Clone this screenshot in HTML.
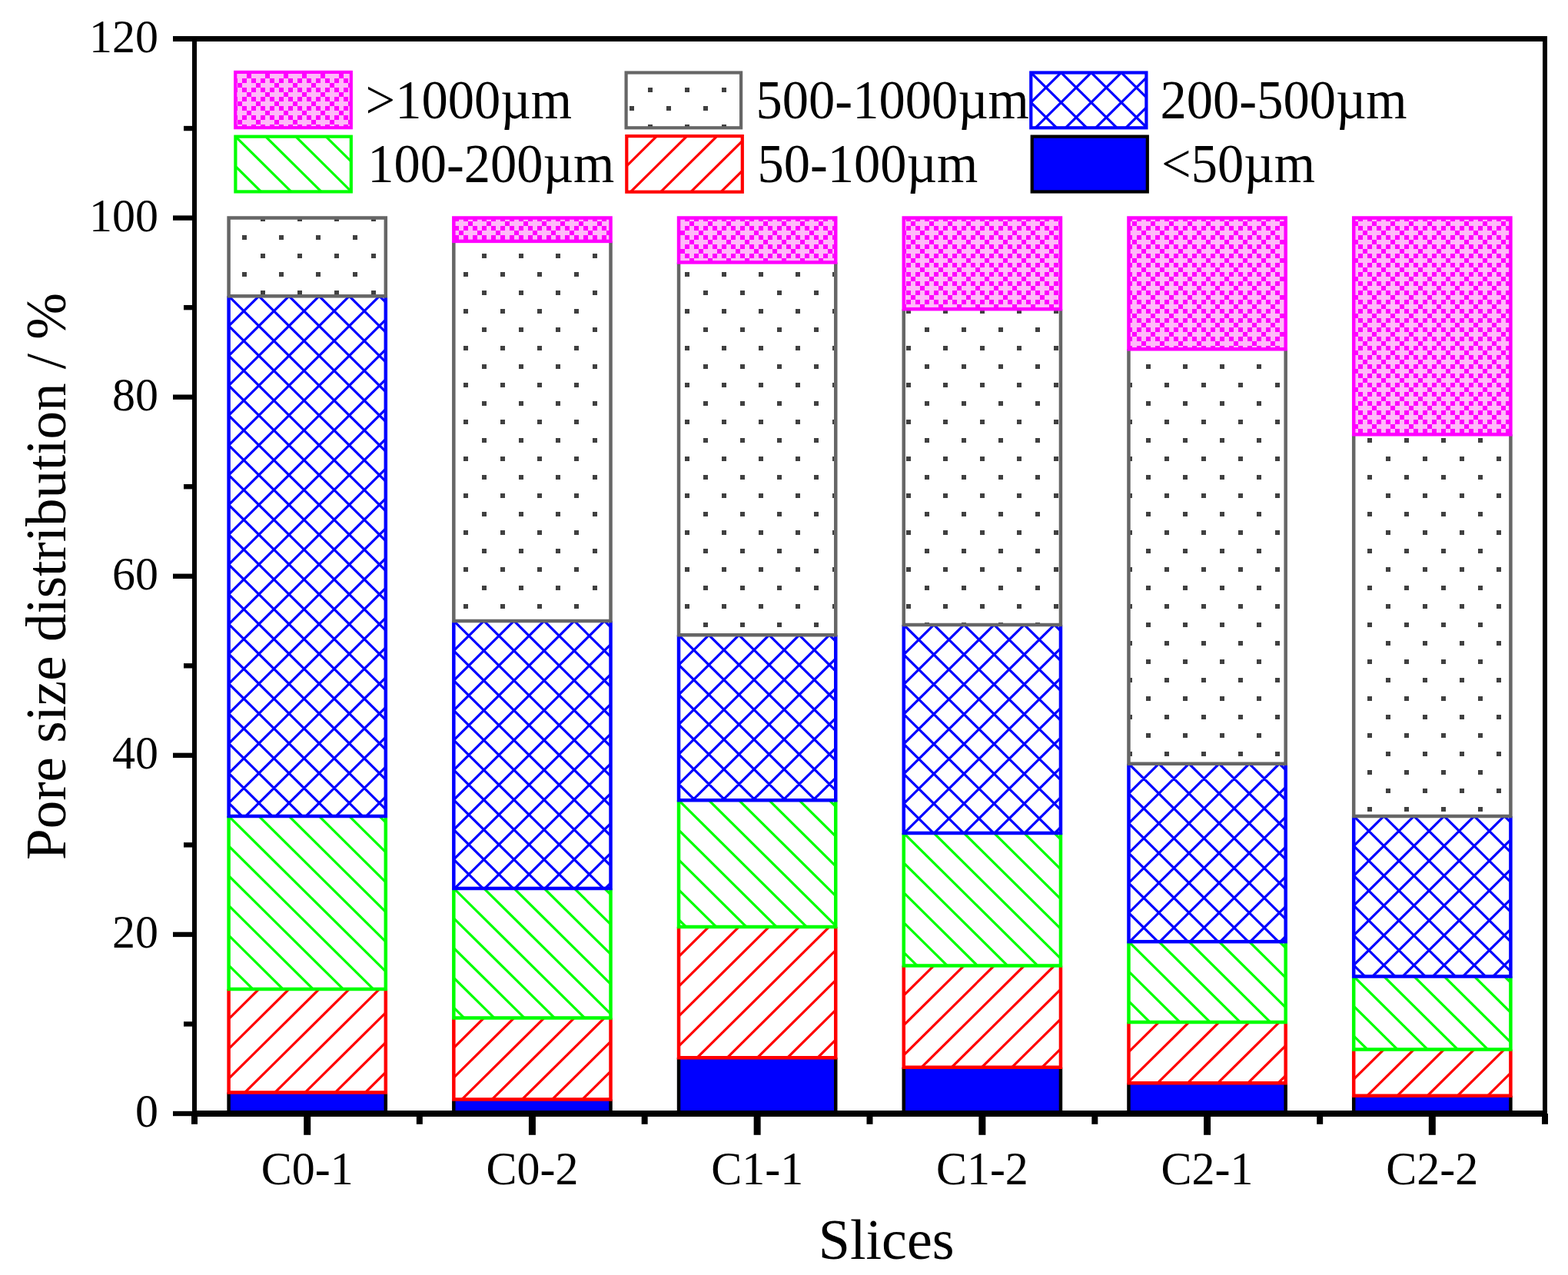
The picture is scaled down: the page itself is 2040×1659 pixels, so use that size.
<!DOCTYPE html>
<html><head><meta charset="utf-8"><title>Pore size distribution</title>
<style>
html,body{margin:0;padding:0;background:#fff;}
svg{display:block;}
text{font-family:"Liberation Serif","Times New Roman",serif;fill:#000;}
</style></head>
<body>
<svg width="2040" height="1659" viewBox="0 0 2040 1659">
<defs>
<pattern id="dots" patternUnits="userSpaceOnUse" x="0" y="0" width="48" height="48">
<rect x="27" y="18" width="6" height="6" fill="#404040"/><rect x="3" y="42" width="6" height="6" fill="#404040"/>
</pattern>
<pattern id="mag" patternUnits="userSpaceOnUse" x="9" y="0" width="24" height="24">
<rect width="24" height="24" fill="#ffb9f9"/>
<path d="M0 0h6v6h-6zM6 6h6v6h-6zM18 6h6v6h-6zM12 12h6v6h-6zM6 18h6v6h-6zM18 18h6v6h-6z" fill="#ff00ff"/>
</pattern>
<clipPath id="c1"><rect x="297.60" y="1287.00" width="204.20" height="134.50"/></clipPath><clipPath id="c2"><rect x="297.60" y="1062.00" width="204.20" height="225.00"/></clipPath><clipPath id="c3"><rect x="297.60" y="385.30" width="204.20" height="676.70"/></clipPath><clipPath id="c4"><rect x="590.32" y="1324.60" width="204.20" height="105.80"/></clipPath><clipPath id="c5"><rect x="590.32" y="1155.90" width="204.20" height="168.70"/></clipPath><clipPath id="c6"><rect x="590.32" y="807.90" width="204.20" height="348.00"/></clipPath><clipPath id="c7"><rect x="883.04" y="1205.90" width="204.20" height="170.40"/></clipPath><clipPath id="c8"><rect x="883.04" y="1041.30" width="204.20" height="164.60"/></clipPath><clipPath id="c9"><rect x="883.04" y="826.30" width="204.20" height="215.00"/></clipPath><clipPath id="c10"><rect x="1175.76" y="1256.50" width="204.20" height="132.30"/></clipPath><clipPath id="c11"><rect x="1175.76" y="1084.00" width="204.20" height="172.50"/></clipPath><clipPath id="c12"><rect x="1175.76" y="812.90" width="204.20" height="271.10"/></clipPath><clipPath id="c13"><rect x="1468.48" y="1330.00" width="204.20" height="79.20"/></clipPath><clipPath id="c14"><rect x="1468.48" y="1225.20" width="204.20" height="104.80"/></clipPath><clipPath id="c15"><rect x="1468.48" y="993.70" width="204.20" height="231.50"/></clipPath><clipPath id="c16"><rect x="1761.20" y="1365.50" width="204.20" height="60.30"/></clipPath><clipPath id="c17"><rect x="1761.20" y="1270.40" width="204.20" height="95.10"/></clipPath><clipPath id="c18"><rect x="1761.20" y="1061.90" width="204.20" height="208.50"/></clipPath><clipPath id="c19"><rect x="1341.30" y="94.50" width="150.10" height="71.80"/></clipPath><clipPath id="c20"><rect x="306.40" y="177.70" width="150.40" height="71.70"/></clipPath><clipPath id="c21"><rect x="815.30" y="177.10" width="150.50" height="72.60"/></clipPath></defs>
<rect width="2040" height="1659" fill="#fff"/>
<rect x="297.60" y="1421.50" width="204.20" height="27.50" fill="#0000ff"/><path d="M297.60 1421.50V1449.00H501.80V1421.50" fill="none" stroke="#000000" stroke-width="4.50" stroke-linejoin="miter"/>
<rect x="297.60" y="1287.00" width="204.20" height="134.50" fill="#fff"/><path clip-path="url(#c1)" d="M301.64 1283.00L157.67 1425.50M340.84 1283.00L196.87 1425.50M380.04 1283.00L236.07 1425.50M419.24 1283.00L275.27 1425.50M458.44 1283.00L314.47 1425.50M497.64 1283.00L353.67 1425.50M536.84 1283.00L392.87 1425.50M576.04 1283.00L432.07 1425.50M615.24 1283.00L471.27 1425.50" stroke="#ff0000" stroke-width="3.20" fill="none"/><path d="M297.60 1287.00V1421.50H501.80V1287.00" fill="none" stroke="#ff0000" stroke-width="4.50" stroke-linejoin="miter"/>
<rect x="297.60" y="1062.00" width="204.20" height="225.00" fill="#fff"/><path clip-path="url(#c2)" d="M97.56 1058.00L332.96 1291.00M136.76 1058.00L372.16 1291.00M175.96 1058.00L411.36 1291.00M215.16 1058.00L450.56 1291.00M254.36 1058.00L489.76 1291.00M293.56 1058.00L528.96 1291.00M332.76 1058.00L568.16 1291.00M371.96 1058.00L607.36 1291.00M411.16 1058.00L646.56 1291.00M450.36 1058.00L685.76 1291.00M489.56 1058.00L724.96 1291.00" stroke="#00ff00" stroke-width="3.20" fill="none"/><path d="M297.60 1062.00V1287.00H501.80V1062.00" fill="none" stroke="#00ff00" stroke-width="4.50" stroke-linejoin="miter"/>
<rect x="297.60" y="385.30" width="204.20" height="676.70" fill="#fff"/><path clip-path="url(#c3)" d="M-372.84 381.30L318.92 1066.00M-333.64 381.30L358.12 1066.00M-294.44 381.30L397.32 1066.00M-255.24 381.30L436.52 1066.00M-216.04 381.30L475.72 1066.00M-176.84 381.30L514.92 1066.00M-137.64 381.30L554.12 1066.00M-98.44 381.30L593.32 1066.00M-59.24 381.30L632.52 1066.00M-20.04 381.30L671.72 1066.00M19.16 381.30L710.92 1066.00M58.36 381.30L750.12 1066.00M97.56 381.30L789.32 1066.00M136.76 381.30L828.52 1066.00M175.96 381.30L867.72 1066.00M215.16 381.30L906.92 1066.00M254.36 381.30L946.12 1066.00M293.56 381.30L985.32 1066.00M332.76 381.30L1024.52 1066.00M371.96 381.30L1063.72 1066.00M411.16 381.30L1102.92 1066.00M450.36 381.30L1142.12 1066.00M489.56 381.30L1181.32 1066.00M301.64 381.30L-390.12 1066.00M340.84 381.30L-350.92 1066.00M380.04 381.30L-311.72 1066.00M419.24 381.30L-272.52 1066.00M458.44 381.30L-233.32 1066.00M497.64 381.30L-194.12 1066.00M536.84 381.30L-154.92 1066.00M576.04 381.30L-115.72 1066.00M615.24 381.30L-76.52 1066.00M654.44 381.30L-37.32 1066.00M693.64 381.30L1.88 1066.00M732.84 381.30L41.08 1066.00M772.04 381.30L80.28 1066.00M811.24 381.30L119.48 1066.00M850.44 381.30L158.68 1066.00M889.64 381.30L197.88 1066.00M928.84 381.30L237.08 1066.00M968.04 381.30L276.28 1066.00M1007.24 381.30L315.48 1066.00M1046.44 381.30L354.68 1066.00M1085.64 381.30L393.88 1066.00M1124.84 381.30L433.08 1066.00M1164.04 381.30L472.28 1066.00" stroke="#0000ff" stroke-width="3.20" fill="none"/><path d="M297.60 385.30V1062.00H501.80V385.30" fill="none" stroke="#0000ff" stroke-width="4.50" stroke-linejoin="miter"/>
<rect x="297.60" y="283.50" width="204.20" height="101.80" fill="url(#dots)"/><rect x="297.60" y="283.50" width="204.20" height="101.80" fill="none" stroke="#666666" stroke-width="4.50"/>
<rect x="590.32" y="1430.40" width="204.20" height="18.60" fill="#0000ff"/><path d="M590.32 1430.40V1449.00H794.52V1430.40" fill="none" stroke="#000000" stroke-width="4.50" stroke-linejoin="miter"/>
<rect x="590.32" y="1324.60" width="204.20" height="105.80" fill="#fff"/><path clip-path="url(#c4)" d="M594.36 1320.60L479.39 1434.40M633.56 1320.60L518.59 1434.40M672.76 1320.60L557.79 1434.40M711.96 1320.60L596.99 1434.40M751.16 1320.60L636.19 1434.40M790.36 1320.60L675.39 1434.40M829.56 1320.60L714.59 1434.40M868.76 1320.60L753.79 1434.40M907.96 1320.60L792.99 1434.40" stroke="#ff0000" stroke-width="3.20" fill="none"/><path d="M590.32 1324.60V1430.40H794.52V1324.60" fill="none" stroke="#ff0000" stroke-width="4.50" stroke-linejoin="miter"/>
<rect x="590.32" y="1155.90" width="204.20" height="168.70" fill="#fff"/><path clip-path="url(#c5)" d="M429.48 1151.90L608.00 1328.60M468.68 1151.90L647.20 1328.60M507.88 1151.90L686.40 1328.60M547.08 1151.90L725.60 1328.60M586.28 1151.90L764.80 1328.60M625.48 1151.90L804.00 1328.60M664.68 1151.90L843.20 1328.60M703.88 1151.90L882.40 1328.60M743.08 1151.90L921.60 1328.60M782.28 1151.90L960.80 1328.60" stroke="#00ff00" stroke-width="3.20" fill="none"/><path d="M590.32 1155.90V1324.60H794.52V1155.90" fill="none" stroke="#00ff00" stroke-width="4.50" stroke-linejoin="miter"/>
<rect x="590.32" y="807.90" width="204.20" height="348.00" fill="#fff"/><path clip-path="url(#c6)" d="M233.48 803.90L593.15 1159.90M272.68 803.90L632.35 1159.90M311.88 803.90L671.55 1159.90M351.08 803.90L710.75 1159.90M390.28 803.90L749.95 1159.90M429.48 803.90L789.15 1159.90M468.68 803.90L828.35 1159.90M507.88 803.90L867.55 1159.90M547.08 803.90L906.75 1159.90M586.28 803.90L945.95 1159.90M625.48 803.90L985.15 1159.90M664.68 803.90L1024.35 1159.90M703.88 803.90L1063.55 1159.90M743.08 803.90L1102.75 1159.90M782.28 803.90L1141.95 1159.90M594.36 803.90L234.69 1159.90M633.56 803.90L273.89 1159.90M672.76 803.90L313.09 1159.90M711.96 803.90L352.29 1159.90M751.16 803.90L391.49 1159.90M790.36 803.90L430.69 1159.90M829.56 803.90L469.89 1159.90M868.76 803.90L509.09 1159.90M907.96 803.90L548.29 1159.90M947.16 803.90L587.49 1159.90M986.36 803.90L626.69 1159.90M1025.56 803.90L665.89 1159.90M1064.76 803.90L705.09 1159.90M1103.96 803.90L744.29 1159.90M1143.16 803.90L783.49 1159.90" stroke="#0000ff" stroke-width="3.20" fill="none"/><path d="M590.32 807.90V1155.90H794.52V807.90" fill="none" stroke="#0000ff" stroke-width="4.50" stroke-linejoin="miter"/>
<rect x="590.32" y="313.90" width="204.20" height="494.00" fill="url(#dots)"/><path d="M590.32 313.90V807.90H794.52V313.90" fill="none" stroke="#666666" stroke-width="4.50" stroke-linejoin="miter"/>
<rect x="590.32" y="283.50" width="204.20" height="30.40" fill="url(#mag)"/><rect x="590.32" y="283.50" width="204.20" height="30.40" fill="none" stroke="#ff00ff" stroke-width="4.50"/>
<rect x="883.04" y="1376.30" width="204.20" height="72.70" fill="#0000ff"/><path d="M883.04 1376.30V1449.00H1087.24V1376.30" fill="none" stroke="#000000" stroke-width="4.50" stroke-linejoin="miter"/>
<rect x="883.04" y="1205.90" width="204.20" height="170.40" fill="#fff"/><path clip-path="url(#c7)" d="M887.08 1201.90L706.84 1380.30M926.28 1201.90L746.04 1380.30M965.48 1201.90L785.24 1380.30M1004.68 1201.90L824.44 1380.30M1043.88 1201.90L863.64 1380.30M1083.08 1201.90L902.84 1380.30M1122.28 1201.90L942.04 1380.30M1161.48 1201.90L981.24 1380.30M1200.68 1201.90L1020.44 1380.30M1239.88 1201.90L1059.64 1380.30" stroke="#ff0000" stroke-width="3.20" fill="none"/><path d="M883.04 1205.90V1376.30H1087.24V1205.90" fill="none" stroke="#ff0000" stroke-width="4.50" stroke-linejoin="miter"/>
<rect x="883.04" y="1041.30" width="204.20" height="164.60" fill="#fff"/><path clip-path="url(#c8)" d="M722.20 1037.30L896.58 1209.90M761.40 1037.30L935.78 1209.90M800.60 1037.30L974.98 1209.90M839.80 1037.30L1014.18 1209.90M879.00 1037.30L1053.38 1209.90M918.20 1037.30L1092.58 1209.90M957.40 1037.30L1131.78 1209.90M996.60 1037.30L1170.98 1209.90M1035.80 1037.30L1210.18 1209.90M1075.00 1037.30L1249.38 1209.90" stroke="#00ff00" stroke-width="3.20" fill="none"/><path d="M883.04 1041.30V1205.90H1087.24V1041.30" fill="none" stroke="#00ff00" stroke-width="4.50" stroke-linejoin="miter"/>
<rect x="883.04" y="826.30" width="204.20" height="215.00" fill="#fff"/><path clip-path="url(#c9)" d="M683.00 822.30L908.30 1045.30M722.20 822.30L947.50 1045.30M761.40 822.30L986.70 1045.30M800.60 822.30L1025.90 1045.30M839.80 822.30L1065.10 1045.30M879.00 822.30L1104.30 1045.30M918.20 822.30L1143.50 1045.30M957.40 822.30L1182.70 1045.30M996.60 822.30L1221.90 1045.30M1035.80 822.30L1261.10 1045.30M1075.00 822.30L1300.30 1045.30M887.08 822.30L661.78 1045.30M926.28 822.30L700.98 1045.30M965.48 822.30L740.18 1045.30M1004.68 822.30L779.38 1045.30M1043.88 822.30L818.58 1045.30M1083.08 822.30L857.78 1045.30M1122.28 822.30L896.98 1045.30M1161.48 822.30L936.18 1045.30M1200.68 822.30L975.38 1045.30M1239.88 822.30L1014.58 1045.30M1279.08 822.30L1053.78 1045.30" stroke="#0000ff" stroke-width="3.20" fill="none"/><path d="M883.04 826.30V1041.30H1087.24V826.30" fill="none" stroke="#0000ff" stroke-width="4.50" stroke-linejoin="miter"/>
<rect x="883.04" y="341.40" width="204.20" height="484.90" fill="url(#dots)"/><path d="M883.04 341.40V826.30H1087.24V341.40" fill="none" stroke="#666666" stroke-width="4.50" stroke-linejoin="miter"/>
<rect x="883.04" y="283.50" width="204.20" height="57.90" fill="url(#mag)"/><rect x="883.04" y="283.50" width="204.20" height="57.90" fill="none" stroke="#ff00ff" stroke-width="4.50"/>
<rect x="1175.76" y="1388.80" width="204.20" height="60.20" fill="#0000ff"/><path d="M1175.76 1388.80V1449.00H1379.96V1388.80" fill="none" stroke="#000000" stroke-width="4.50" stroke-linejoin="miter"/>
<rect x="1175.76" y="1256.50" width="204.20" height="132.30" fill="#fff"/><path clip-path="url(#c10)" d="M1179.80 1252.50L1038.05 1392.80M1219.00 1252.50L1077.25 1392.80M1258.20 1252.50L1116.45 1392.80M1297.40 1252.50L1155.65 1392.80M1336.60 1252.50L1194.85 1392.80M1375.80 1252.50L1234.05 1392.80M1415.00 1252.50L1273.25 1392.80M1454.20 1252.50L1312.45 1392.80M1493.40 1252.50L1351.65 1392.80" stroke="#ff0000" stroke-width="3.20" fill="none"/><path d="M1175.76 1256.50V1388.80H1379.96V1256.50" fill="none" stroke="#ff0000" stroke-width="4.50" stroke-linejoin="miter"/>
<rect x="1175.76" y="1084.00" width="204.20" height="172.50" fill="#fff"/><path clip-path="url(#c11)" d="M1014.92 1080.00L1197.28 1260.50M1054.12 1080.00L1236.48 1260.50M1093.32 1080.00L1275.68 1260.50M1132.52 1080.00L1314.88 1260.50M1171.72 1080.00L1354.08 1260.50M1210.92 1080.00L1393.28 1260.50M1250.12 1080.00L1432.48 1260.50M1289.32 1080.00L1471.68 1260.50M1328.52 1080.00L1510.88 1260.50M1367.72 1080.00L1550.08 1260.50" stroke="#00ff00" stroke-width="3.20" fill="none"/><path d="M1175.76 1084.00V1256.50H1379.96V1084.00" fill="none" stroke="#00ff00" stroke-width="4.50" stroke-linejoin="miter"/>
<rect x="1175.76" y="812.90" width="204.20" height="271.10" fill="#fff"/><path clip-path="url(#c12)" d="M897.32 808.90L1179.30 1088.00M936.52 808.90L1218.50 1088.00M975.72 808.90L1257.70 1088.00M1014.92 808.90L1296.90 1088.00M1054.12 808.90L1336.10 1088.00M1093.32 808.90L1375.30 1088.00M1132.52 808.90L1414.50 1088.00M1171.72 808.90L1453.70 1088.00M1210.92 808.90L1492.90 1088.00M1250.12 808.90L1532.10 1088.00M1289.32 808.90L1571.30 1088.00M1328.52 808.90L1610.50 1088.00M1367.72 808.90L1649.70 1088.00M1179.80 808.90L897.82 1088.00M1219.00 808.90L937.02 1088.00M1258.20 808.90L976.22 1088.00M1297.40 808.90L1015.42 1088.00M1336.60 808.90L1054.62 1088.00M1375.80 808.90L1093.82 1088.00M1415.00 808.90L1133.02 1088.00M1454.20 808.90L1172.22 1088.00M1493.40 808.90L1211.42 1088.00M1532.60 808.90L1250.62 1088.00M1571.80 808.90L1289.82 1088.00M1611.00 808.90L1329.02 1088.00M1650.20 808.90L1368.22 1088.00" stroke="#0000ff" stroke-width="3.20" fill="none"/><path d="M1175.76 812.90V1084.00H1379.96V812.90" fill="none" stroke="#0000ff" stroke-width="4.50" stroke-linejoin="miter"/>
<rect x="1175.76" y="402.20" width="204.20" height="410.70" fill="url(#dots)"/><path d="M1175.76 402.20V812.90H1379.96V402.20" fill="none" stroke="#666666" stroke-width="4.50" stroke-linejoin="miter"/>
<rect x="1175.76" y="283.50" width="204.20" height="118.70" fill="url(#mag)"/><rect x="1175.76" y="283.50" width="204.20" height="118.70" fill="none" stroke="#ff00ff" stroke-width="4.50"/>
<rect x="1468.48" y="1409.20" width="204.20" height="39.80" fill="#0000ff"/><path d="M1468.48 1409.20V1449.00H1672.68V1409.20" fill="none" stroke="#000000" stroke-width="4.50" stroke-linejoin="miter"/>
<rect x="1468.48" y="1330.00" width="204.20" height="79.20" fill="#fff"/><path clip-path="url(#c13)" d="M1472.52 1326.00L1384.42 1413.20M1511.72 1326.00L1423.62 1413.20M1550.92 1326.00L1462.82 1413.20M1590.12 1326.00L1502.02 1413.20M1629.32 1326.00L1541.22 1413.20M1668.52 1326.00L1580.42 1413.20M1707.72 1326.00L1619.62 1413.20M1746.92 1326.00L1658.82 1413.20" stroke="#ff0000" stroke-width="3.20" fill="none"/><path d="M1468.48 1330.00V1409.20H1672.68V1330.00" fill="none" stroke="#ff0000" stroke-width="4.50" stroke-linejoin="miter"/>
<rect x="1468.48" y="1225.20" width="204.20" height="104.80" fill="#fff"/><path clip-path="url(#c14)" d="M1386.04 1221.20L1500.00 1334.00M1425.24 1221.20L1539.20 1334.00M1464.44 1221.20L1578.40 1334.00M1503.64 1221.20L1617.60 1334.00M1542.84 1221.20L1656.80 1334.00M1582.04 1221.20L1696.00 1334.00M1621.24 1221.20L1735.20 1334.00M1660.44 1221.20L1774.40 1334.00" stroke="#00ff00" stroke-width="3.20" fill="none"/><path d="M1468.48 1225.20V1330.00H1672.68V1225.20" fill="none" stroke="#00ff00" stroke-width="4.50" stroke-linejoin="miter"/>
<rect x="1468.48" y="993.70" width="204.20" height="231.50" fill="#fff"/><path clip-path="url(#c15)" d="M1229.24 989.70L1471.21 1229.20M1268.44 989.70L1510.41 1229.20M1307.64 989.70L1549.61 1229.20M1346.84 989.70L1588.81 1229.20M1386.04 989.70L1628.01 1229.20M1425.24 989.70L1667.21 1229.20M1464.44 989.70L1706.41 1229.20M1503.64 989.70L1745.61 1229.20M1542.84 989.70L1784.81 1229.20M1582.04 989.70L1824.01 1229.20M1621.24 989.70L1863.21 1229.20M1660.44 989.70L1902.41 1229.20M1472.52 989.70L1230.55 1229.20M1511.72 989.70L1269.75 1229.20M1550.92 989.70L1308.95 1229.20M1590.12 989.70L1348.15 1229.20M1629.32 989.70L1387.35 1229.20M1668.52 989.70L1426.55 1229.20M1707.72 989.70L1465.75 1229.20M1746.92 989.70L1504.95 1229.20M1786.12 989.70L1544.15 1229.20M1825.32 989.70L1583.35 1229.20M1864.52 989.70L1622.55 1229.20M1903.72 989.70L1661.75 1229.20" stroke="#0000ff" stroke-width="3.20" fill="none"/><path d="M1468.48 993.70V1225.20H1672.68V993.70" fill="none" stroke="#0000ff" stroke-width="4.50" stroke-linejoin="miter"/>
<rect x="1468.48" y="454.30" width="204.20" height="539.40" fill="url(#dots)"/><path d="M1468.48 454.30V993.70H1672.68V454.30" fill="none" stroke="#666666" stroke-width="4.50" stroke-linejoin="miter"/>
<rect x="1468.48" y="283.50" width="204.20" height="170.80" fill="url(#mag)"/><rect x="1468.48" y="283.50" width="204.20" height="170.80" fill="none" stroke="#ff00ff" stroke-width="4.50"/>
<rect x="1761.20" y="1425.80" width="204.20" height="23.20" fill="#0000ff"/><path d="M1761.20 1425.80V1449.00H1965.40V1425.80" fill="none" stroke="#000000" stroke-width="4.50" stroke-linejoin="miter"/>
<rect x="1761.20" y="1365.50" width="204.20" height="60.30" fill="#fff"/><path clip-path="url(#c16)" d="M1765.24 1361.50L1696.24 1429.80M1804.44 1361.50L1735.44 1429.80M1843.64 1361.50L1774.64 1429.80M1882.84 1361.50L1813.84 1429.80M1922.04 1361.50L1853.04 1429.80M1961.24 1361.50L1892.24 1429.80M2000.44 1361.50L1931.44 1429.80" stroke="#ff0000" stroke-width="3.20" fill="none"/><path d="M1761.20 1365.50V1425.80H1965.40V1365.50" fill="none" stroke="#ff0000" stroke-width="4.50" stroke-linejoin="miter"/>
<rect x="1761.20" y="1270.40" width="204.20" height="95.10" fill="#fff"/><path clip-path="url(#c17)" d="M1678.76 1266.40L1782.92 1369.50M1717.96 1266.40L1822.12 1369.50M1757.16 1266.40L1861.32 1369.50M1796.36 1266.40L1900.52 1369.50M1835.56 1266.40L1939.72 1369.50M1874.76 1266.40L1978.92 1369.50M1913.96 1266.40L2018.12 1369.50M1953.16 1266.40L2057.32 1369.50" stroke="#00ff00" stroke-width="3.20" fill="none"/><path d="M1761.20 1270.40V1365.50H1965.40V1270.40" fill="none" stroke="#00ff00" stroke-width="4.50" stroke-linejoin="miter"/>
<rect x="1761.20" y="1061.90" width="204.20" height="208.50" fill="#fff"/><path clip-path="url(#c18)" d="M1561.16 1057.90L1779.89 1274.40M1600.36 1057.90L1819.09 1274.40M1639.56 1057.90L1858.29 1274.40M1678.76 1057.90L1897.49 1274.40M1717.96 1057.90L1936.69 1274.40M1757.16 1057.90L1975.89 1274.40M1796.36 1057.90L2015.09 1274.40M1835.56 1057.90L2054.29 1274.40M1874.76 1057.90L2093.49 1274.40M1913.96 1057.90L2132.69 1274.40M1953.16 1057.90L2171.89 1274.40M1765.24 1057.90L1546.51 1274.40M1804.44 1057.90L1585.71 1274.40M1843.64 1057.90L1624.91 1274.40M1882.84 1057.90L1664.11 1274.40M1922.04 1057.90L1703.31 1274.40M1961.24 1057.90L1742.51 1274.40M2000.44 1057.90L1781.71 1274.40M2039.64 1057.90L1820.91 1274.40M2078.84 1057.90L1860.11 1274.40M2118.04 1057.90L1899.31 1274.40M2157.24 1057.90L1938.51 1274.40" stroke="#0000ff" stroke-width="3.20" fill="none"/><path d="M1761.20 1061.90V1270.40H1965.40V1061.90" fill="none" stroke="#0000ff" stroke-width="4.50" stroke-linejoin="miter"/>
<rect x="1761.20" y="565.30" width="204.20" height="496.60" fill="url(#dots)"/><path d="M1761.20 565.30V1061.90H1965.40V565.30" fill="none" stroke="#666666" stroke-width="4.50" stroke-linejoin="miter"/>
<rect x="1761.20" y="283.50" width="204.20" height="281.80" fill="url(#mag)"/><rect x="1761.20" y="283.50" width="204.20" height="281.80" fill="none" stroke="#ff00ff" stroke-width="4.50"/>
<rect x="306.20" y="93.90" width="150.60" height="72.30" fill="url(#mag)"/><rect x="306.20" y="93.90" width="150.60" height="72.30" fill="none" stroke="#ff00ff" stroke-width="4.20"/>
<rect x="814.60" y="94.50" width="149.50" height="71.80" fill="url(#dots)"/><rect x="814.60" y="94.50" width="149.50" height="71.80" fill="none" stroke="#666666" stroke-width="4.20"/>
<rect x="1341.30" y="94.50" width="150.10" height="71.80" fill="#fff"/><path clip-path="url(#c19)" d="M1298.06 90.50L1378.68 170.30M1337.26 90.50L1417.88 170.30M1376.46 90.50L1457.08 170.30M1415.66 90.50L1496.28 170.30M1454.86 90.50L1535.48 170.30M1345.34 90.50L1264.72 170.30M1384.54 90.50L1303.92 170.30M1423.74 90.50L1343.12 170.30M1462.94 90.50L1382.32 170.30M1502.14 90.50L1421.52 170.30M1541.34 90.50L1460.72 170.30" stroke="#0000ff" stroke-width="3.20" fill="none"/><rect x="1341.30" y="94.50" width="150.10" height="71.80" fill="none" stroke="#0000ff" stroke-width="4.20"/>
<rect x="306.40" y="177.70" width="150.40" height="71.70" fill="#fff"/><path clip-path="url(#c20)" d="M263.16 173.70L343.68 253.40M302.36 173.70L382.88 253.40M341.56 173.70L422.08 253.40M380.76 173.70L461.28 253.40M419.96 173.70L500.48 253.40" stroke="#00ff00" stroke-width="3.20" fill="none"/><rect x="306.40" y="177.70" width="150.40" height="71.70" fill="none" stroke="#00ff00" stroke-width="4.20"/>
<rect x="815.30" y="177.10" width="150.50" height="72.60" fill="#fff"/><path clip-path="url(#c21)" d="M819.34 173.10L737.91 253.70M858.54 173.10L777.11 253.70M897.74 173.10L816.31 253.70M936.94 173.10L855.51 253.70M976.14 173.10L894.71 253.70M1015.34 173.10L933.91 253.70" stroke="#ff0000" stroke-width="3.20" fill="none"/><rect x="815.30" y="177.10" width="150.50" height="72.60" fill="none" stroke="#ff0000" stroke-width="4.20"/>
<rect x="1342.70" y="177.60" width="150.10" height="71.90" fill="#0000ff"/><rect x="1342.70" y="177.60" width="150.10" height="71.90" fill="none" stroke="#000000" stroke-width="4.20"/>
<text transform="translate(475.6 153.6) scale(1 1.04)" font-size="68.5">&gt;1000µm</text>
<text transform="translate(983.6 153.6) scale(1 1.04)" font-size="68.5">500-1000µm</text>
<text transform="translate(1509.6 153.6) scale(1 1.04)" font-size="68.5">200-500µm</text>
<text transform="translate(478.2 237.0) scale(1 1.04)" font-size="68.5">100-200µm</text>
<text transform="translate(985.5 237.0) scale(1 1.04)" font-size="68.5">50-100µm</text>
<text transform="translate(1511.1 237.0) scale(1 1.04)" font-size="68.5">&lt;50µm</text>
<line x1="225" y1="1449.00" x2="253.0" y2="1449.00" stroke="#000" stroke-width="6.4"/>
<line x1="239" y1="1332.46" x2="253.0" y2="1332.46" stroke="#000" stroke-width="6.4"/>
<line x1="225" y1="1215.92" x2="253.0" y2="1215.92" stroke="#000" stroke-width="6.4"/>
<line x1="239" y1="1099.38" x2="253.0" y2="1099.38" stroke="#000" stroke-width="6.4"/>
<line x1="225" y1="982.84" x2="253.0" y2="982.84" stroke="#000" stroke-width="6.4"/>
<line x1="239" y1="866.30" x2="253.0" y2="866.30" stroke="#000" stroke-width="6.4"/>
<line x1="225" y1="749.76" x2="253.0" y2="749.76" stroke="#000" stroke-width="6.4"/>
<line x1="239" y1="633.22" x2="253.0" y2="633.22" stroke="#000" stroke-width="6.4"/>
<line x1="225" y1="516.68" x2="253.0" y2="516.68" stroke="#000" stroke-width="6.4"/>
<line x1="239" y1="400.14" x2="253.0" y2="400.14" stroke="#000" stroke-width="6.4"/>
<line x1="225" y1="283.60" x2="253.0" y2="283.60" stroke="#000" stroke-width="6.4"/>
<line x1="239" y1="167.06" x2="253.0" y2="167.06" stroke="#000" stroke-width="6.4"/>
<line x1="225" y1="50.52" x2="253.0" y2="50.52" stroke="#000" stroke-width="6.4"/>
<line x1="399.70" y1="1449.0" x2="399.70" y2="1476.8" stroke="#000" stroke-width="9"/>
<line x1="692.42" y1="1449.0" x2="692.42" y2="1476.8" stroke="#000" stroke-width="9"/>
<line x1="985.14" y1="1449.0" x2="985.14" y2="1476.8" stroke="#000" stroke-width="9"/>
<line x1="1277.86" y1="1449.0" x2="1277.86" y2="1476.8" stroke="#000" stroke-width="9"/>
<line x1="1570.58" y1="1449.0" x2="1570.58" y2="1476.8" stroke="#000" stroke-width="9"/>
<line x1="1863.30" y1="1449.0" x2="1863.30" y2="1476.8" stroke="#000" stroke-width="9"/>
<line x1="253.00" y1="1449.0" x2="253.00" y2="1462.8" stroke="#000" stroke-width="8"/>
<line x1="545.83" y1="1449.0" x2="545.83" y2="1462.8" stroke="#000" stroke-width="8"/>
<line x1="838.67" y1="1449.0" x2="838.67" y2="1462.8" stroke="#000" stroke-width="8"/>
<line x1="1131.50" y1="1449.0" x2="1131.50" y2="1462.8" stroke="#000" stroke-width="8"/>
<line x1="1424.33" y1="1449.0" x2="1424.33" y2="1462.8" stroke="#000" stroke-width="8"/>
<line x1="1717.17" y1="1449.0" x2="1717.17" y2="1462.8" stroke="#000" stroke-width="8"/>
<line x1="2010.00" y1="1449.0" x2="2010.00" y2="1462.8" stroke="#000" stroke-width="8"/>
<line x1="253.0" y1="47.0" x2="253.0" y2="1452.6" stroke="#000" stroke-width="6"/>
<line x1="2010.0" y1="47.0" x2="2010.0" y2="1452.6" stroke="#000" stroke-width="6"/>
<line x1="225" y1="50.5" x2="2013.0" y2="50.5" stroke="#000" stroke-width="7"/>
<line x1="250" y1="1449.0" x2="2013.0" y2="1449.0" stroke="#000" stroke-width="7.9"/>
<text transform="translate(206.1 1466.3) scale(1 1.03)" font-size="60.0" text-anchor="end">0</text>
<text transform="translate(206.1 1233.2) scale(1 1.03)" font-size="60.0" text-anchor="end">20</text>
<text transform="translate(206.1 1000.1) scale(1 1.03)" font-size="60.0" text-anchor="end">40</text>
<text transform="translate(206.1 767.1) scale(1 1.03)" font-size="60.0" text-anchor="end">60</text>
<text transform="translate(206.1 534.0) scale(1 1.03)" font-size="60.0" text-anchor="end">80</text>
<text transform="translate(206.1 300.9) scale(1 1.03)" font-size="60.0" text-anchor="end">100</text>
<text transform="translate(206.1 67.8) scale(1 1.03)" font-size="60.0" text-anchor="end">120</text>
<text transform="translate(399.70 1541.4) scale(1 1.03)" font-size="60.0" text-anchor="middle">C0-1</text>
<text transform="translate(692.42 1541.4) scale(1 1.03)" font-size="60.0" text-anchor="middle">C0-2</text>
<text transform="translate(985.14 1541.4) scale(1 1.03)" font-size="60.0" text-anchor="middle">C1-1</text>
<text transform="translate(1277.86 1541.4) scale(1 1.03)" font-size="60.0" text-anchor="middle">C1-2</text>
<text transform="translate(1570.58 1541.4) scale(1 1.03)" font-size="60.0" text-anchor="middle">C2-1</text>
<text transform="translate(1863.30 1541.4) scale(1 1.03)" font-size="60.0" text-anchor="middle">C2-2</text>
<text transform="translate(1153.2 1637.6)" font-size="74" text-anchor="middle">Slices</text>
<text transform="translate(85 749.9) rotate(-90)" font-size="73" text-anchor="middle">Pore size distribution / %</text>
</svg>
</body></html>
